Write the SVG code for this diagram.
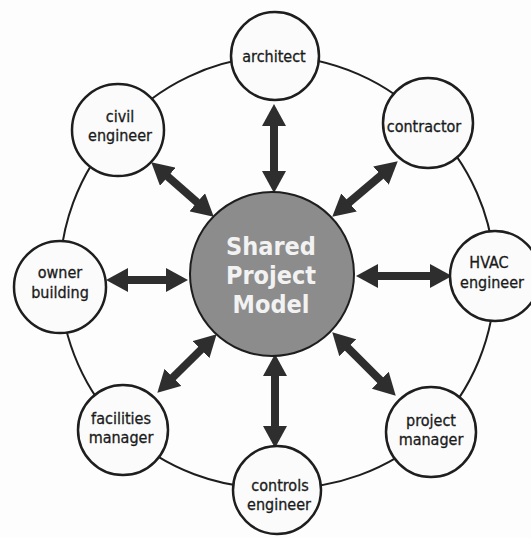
<svg xmlns="http://www.w3.org/2000/svg" width="531" height="538" viewBox="0 0 531 538">
<defs>
<style>
.bg{fill:#fdfdfd}
.ring{fill:none;stroke:#1e1e1e;stroke-width:2}
.node{fill:#fbfbfb;stroke:#1e1e1e;stroke-width:2.5}
.hub{fill:#8c8c8c;stroke:#1e1e1e;stroke-width:2}
.lbl{font-family:'DejaVu Sans Condensed','DejaVu Sans',sans-serif;font-stretch:condensed;font-size:16px;fill:#1a1a1a;stroke:#1a1a1a;stroke-width:0.3;text-anchor:middle}
.hubt{font-family:'DejaVu Sans Condensed','DejaVu Sans',sans-serif;font-stretch:condensed;font-weight:bold;font-size:25px;fill:#f2f2f2;text-anchor:middle}
.arr{stroke:#2e2e2e;stroke-width:8;fill:none;marker-start:url(#ah);marker-end:url(#ah)}
</style>
<marker id="ah" viewBox="0 0 22 24" markerWidth="22" markerHeight="24" refX="1" refY="12" orient="auto-start-reverse" markerUnits="userSpaceOnUse">
<path d="M0,0 L22,12 L0,24 Z" fill="#2e2e2e"/>
</marker>
</defs>
<rect class="bg" x="0" y="0" width="531" height="538"/>
<path class="ring" d="M275,56 A216,216 0 0 1 428,123 A216,216 0 0 1 495,276 A216,216 0 0 1 431,432 A216,216 0 0 1 277,488 A216,216 0 0 1 123,430 A216,216 0 0 1 60,287 A216,216 0 0 1 118,130 A216,216 0 0 1 275,56"/>
<g id="connectors">
<line class="arr" x1="274" y1="125" x2="274" y2="172"/>
<line class="arr" x1="275" y1="375" x2="275" y2="427"/>
<line class="arr" x1="127" y1="280" x2="167" y2="280"/>
<line class="arr" x1="377" y1="276" x2="431" y2="276"/>
<line class="arr" x1="167.1" y1="176.1" x2="197.9" y2="202.9"/>
<line class="arr" x1="381.7" y1="174.9" x2="348.3" y2="203.1"/>
<line class="arr" x1="172.3" y1="378" x2="201.7" y2="349"/>
<line class="arr" x1="380.9" y1="380.9" x2="347.1" y2="347.1"/>
</g>
<g id="hub">
<circle class="hub" cx="272" cy="274" r="82"/>
<text class="hubt" x="271" y="255">Shared</text>
<text class="hubt" x="271" y="284">Project</text>
<text class="hubt" x="271" y="313">Model</text>
</g>
<g id="architect">
<circle class="node" cx="275" cy="56" r="44"/>
<text class="lbl" x="274" y="62">architect</text>
</g>
<g id="contractor">
<circle class="node" cx="428" cy="123" r="45"/>
<text class="lbl" x="424" y="132">contractor</text>
</g>
<g id="hvac">
<circle class="node" cx="495" cy="276" r="45"/>
<text class="lbl" x="489" y="268">HVAC</text>
<text class="lbl" x="492" y="288">engineer</text>
</g>
<g id="project-manager">
<circle class="node" cx="431" cy="432" r="45"/>
<text class="lbl" x="431" y="426">project</text>
<text class="lbl" x="431" y="445">manager</text>
</g>
<g id="controls-engineer">
<circle class="node" cx="277" cy="490" r="44"/>
<text class="lbl" x="280" y="491">controls</text>
<text class="lbl" x="279" y="510">engineer</text>
</g>
<g id="facilities-manager">
<circle class="node" cx="123" cy="430" r="45"/>
<text class="lbl" x="121" y="424">facilities</text>
<text class="lbl" x="121" y="443">manager</text>
</g>
<g id="owner-building">
<circle class="node" cx="60" cy="287" r="46"/>
<text class="lbl" x="60" y="278">owner</text>
<text class="lbl" x="60" y="298">building</text>
</g>
<g id="civil-engineer">
<circle class="node" cx="118" cy="130" r="46"/>
<text class="lbl" x="120" y="122">civil</text>
<text class="lbl" x="120" y="141">engineer</text>
</g>
</svg>
